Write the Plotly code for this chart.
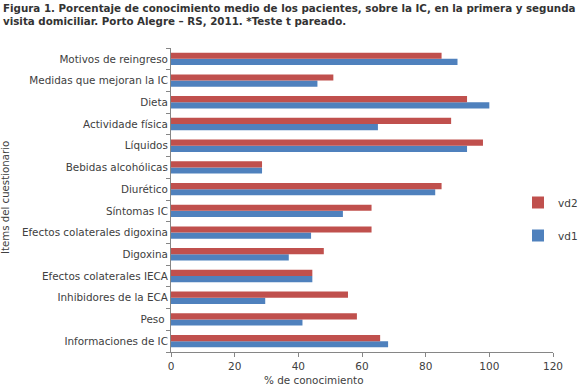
import plotly.graph_objects as go

# categories listed bottom-to-top
categories = [
    "Informaciones de IC", "Peso ", "Inhibidores de la ECA", "Efectos colaterales IECA",
    "Digoxina", "Efectos colaterales digoxina", "Síntomas IC", "Diurético",
    "Bebidas alcohólicas", "Líquidos", "Actividade física", "Dieta",
    "Medidas que mejoran la IC", "Motivos de reingreso",
]
vd1 = [68.2, 41.3, 29.6, 44.4, 37, 44, 54, 83, 28.6, 93, 65, 100, 46, 90]
vd2 = [65.7, 58.4, 55.6, 44.4, 48, 63, 63, 85, 28.6, 98, 88, 93, 51, 85]
x_ticks = [0, 20, 40, 60, 80, 100, 120]

FONT = "DejaVu Sans"
L, R, T, B = 171, 27, 48, 33
W, H = 580, 385
pw, ph = W - L - R, H - T - B


def px_x(x):
    return (x - L) / pw


def px_y(y):
    return (H - B - y) / ph


fig = go.Figure()
fig.add_trace(go.Bar(y=categories, x=vd1, name="vd1", orientation="h",
                     marker=dict(color="#4F81BD", line=dict(width=0)),
                     legendgroup="a", legendrank=2))
fig.add_trace(go.Bar(y=categories, x=vd2, name="vd2", orientation="h",
                     marker=dict(color="#C0504D", line=dict(width=0)),
                     legendgroup="b", legendrank=1))

fig.update_layout(
    width=W, height=H,
    margin=dict(l=L, r=R, t=T, b=B, autoexpand=False),
    paper_bgcolor="white", plot_bgcolor="white",
    barmode="group", bargap=0.43, bargroupgap=0,
    font=dict(family=FONT, size=10.4, color="#404040"),
    xaxis=dict(range=[0, 120], tickvals=x_ticks, showgrid=False, zeroline=False,
               showline=True, linecolor="#868686", linewidth=1,
               ticks="outside", ticklen=4, tickcolor="#868686",
               tickfont=dict(size=10.5), fixedrange=True),
    yaxis=dict(showgrid=False, zeroline=False, showline=True, linecolor="#868686",
               linewidth=1, ticks="outside", ticklen=4, tickcolor="#868686",
               tickson="boundaries", tickfont=dict(size=10.4), fixedrange=True),
    legend=dict(x=px_x(518), xanchor="left", y=px_y(188), yanchor="top",
                traceorder="grouped", tracegroupgap=14,
                font=dict(size=10.5, color="#404040"), bgcolor="rgba(0,0,0,0)",
                itemwidth=30),
    showlegend=True,
)

fig.add_annotation(
    text="<b>Figura 1. Porcentaje de conocimiento medio de los pacientes, sobre la IC, en la primera y segunda<br>visita domiciliar. Porto Alegre – RS, 2011. *Teste t pareado.</b>",
    xref="paper", yref="paper", x=px_x(1), y=px_y(0), xanchor="left", yanchor="top",
    align="left", showarrow=False, font=dict(family=FONT, size=10.3, color="#333333"))
fig.add_annotation(text="% de conocimiento", xref="paper", yref="paper",
                   x=px_x(313.5), y=px_y(379.5), xanchor="center",
                   yanchor="middle", showarrow=False, font=dict(size=10.4, color="#404040"))
fig.add_annotation(text="Items del cuestionario", xref="paper", yref="paper",
                   x=px_x(5), y=px_y(198), xanchor="center", yanchor="middle",
                   textangle=-90, showarrow=False, font=dict(size=10.2, color="#404040"))

fig.write_html("out.html", config={"displayModeBar": False},
               post_script="document.body.style.margin='0';")
